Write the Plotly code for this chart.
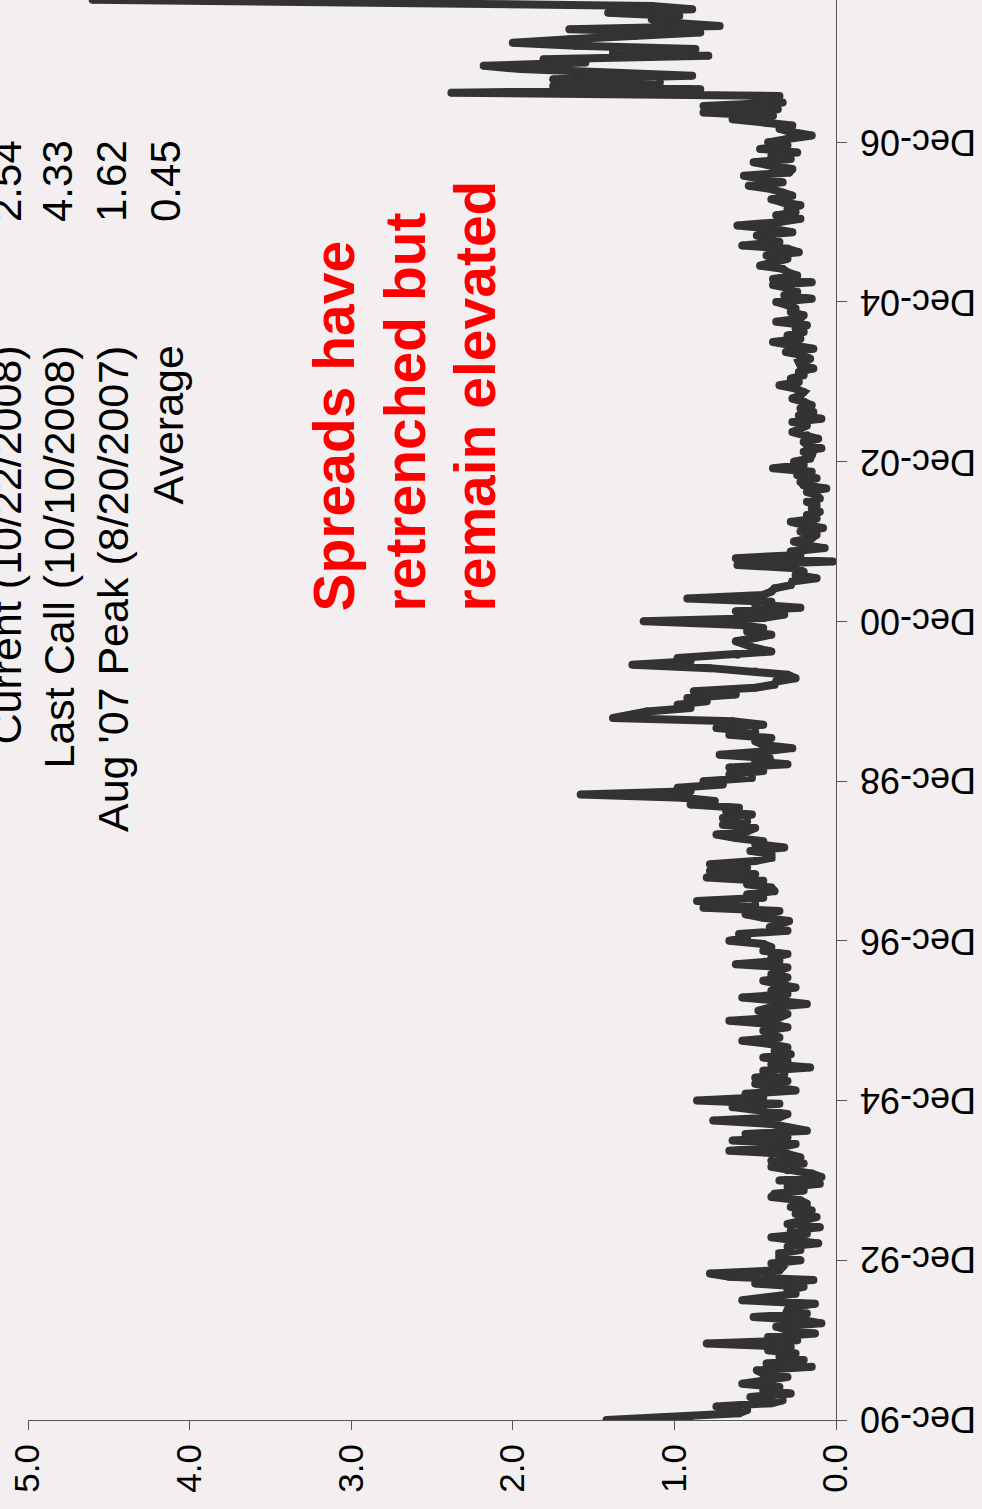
import pandas as pd
import plotly.graph_objects as go

# Half-monthly spread readings (1st and 16th of each month), percent
spread_1990 = [1.42, 0.90]  # December only
spread_1991 = [0.60, 0.55, 0.74, 0.40, 0.33, 0.53, 0.28, 0.45, 0.35, 0.58, 0.40, 0.30,
               0.45, 0.49, 0.15, 0.43, 0.20, 0.35, 0.25, 0.42, 0.28, 0.80, 0.24, 0.42]
spread_1992 = [0.13, 0.30, 0.37, 0.09, 0.20, 0.51, 0.18, 0.30, 0.29, 0.13, 0.58, 0.35,
               0.25, 0.30, 0.20, 0.50, 0.14, 0.66, 0.78, 0.35, 0.33, 0.40, 0.22, 0.35]
spread_1993 = [0.35, 0.22, 0.30, 0.11, 0.25, 0.40, 0.18, 0.28, 0.10, 0.30, 0.20, 0.12,
               0.25, 0.15, 0.28, 0.18, 0.22, 0.40, 0.38, 0.20, 0.30, 0.10, 0.35, 0.09]
spread_1994 = [0.15, 0.30, 0.40, 0.20, 0.40, 0.22, 0.30, 0.66, 0.35, 0.25, 0.64, 0.30,
               0.56, 0.18, 0.30, 0.40, 0.76, 0.35, 0.30, 0.45, 0.64, 0.35, 0.86, 0.45]
spread_1995 = [0.56, 0.25, 0.35, 0.50, 0.30, 0.50, 0.32, 0.45, 0.16, 0.40, 0.30, 0.45,
               0.28, 0.38, 0.30, 0.40, 0.58, 0.35, 0.40, 0.45, 0.30, 0.40, 0.66, 0.35]
spread_1996 = [0.30, 0.48, 0.40, 0.18, 0.35, 0.58, 0.30, 0.40, 0.25, 0.38, 0.45, 0.30,
               0.40, 0.35, 0.30, 0.62, 0.35, 0.40, 0.30, 0.45, 0.40, 0.45, 0.66, 0.55]
spread_1997 = [0.60, 0.30, 0.41, 0.35, 0.29, 0.45, 0.56, 0.35, 0.82, 0.50, 0.86, 0.45,
               0.55, 0.38, 0.40, 0.55, 0.45, 0.80, 0.50, 0.78, 0.55, 0.78, 0.50, 0.40]
spread_1998 = [0.40, 0.53, 0.32, 0.50, 0.45, 0.62, 0.74, 0.55, 0.50, 0.70, 0.55, 0.70,
               0.52, 0.68, 0.60, 0.90, 0.75, 0.95, 1.58, 0.90, 0.98, 0.70, 0.82, 0.52]
spread_1999 = [0.66, 0.45, 0.66, 0.30, 0.50, 0.41, 0.72, 0.45, 0.27, 0.45, 0.50, 0.40,
               0.66, 0.50, 0.74, 0.45, 0.64, 1.38, 1.26, 1.17, 0.90, 0.98, 0.80, 0.92]
spread_2000 = [0.62, 0.88, 0.50, 0.38, 0.37, 0.25, 0.30, 0.50, 0.78, 1.26, 0.90, 0.98,
               0.61, 0.40, 0.50, 0.55, 0.62, 0.50, 0.40, 0.55, 0.45, 0.62, 1.19, 0.45]
spread_2001 = [0.32, 0.62, 0.22, 0.50, 0.40, 0.92, 0.45, 0.40, 0.38, 0.28, 0.27, 0.12,
               0.25, 0.20, 0.25, 0.61, 0.02, 0.62, 0.22, 0.28, 0.07, 0.20, 0.26, 0.15]
spread_2002 = [0.12, 0.22, 0.08, 0.20, 0.28, 0.12, 0.18, 0.10, 0.15, 0.12, 0.18, 0.10,
               0.12, 0.18, 0.06, 0.20, 0.22, 0.12, 0.24, 0.15, 0.39, 0.20, 0.26, 0.16]
spread_2003 = [0.15, 0.20, 0.09, 0.18, 0.20, 0.11, 0.18, 0.27, 0.22, 0.18, 0.27, 0.09,
               0.23, 0.14, 0.22, 0.15, 0.20, 0.27, 0.22, 0.20, 0.25, 0.35, 0.23, 0.28]
spread_2004 = [0.20, 0.23, 0.14, 0.22, 0.23, 0.16, 0.20, 0.31, 0.14, 0.25, 0.39, 0.22,
               0.30, 0.20, 0.25, 0.18, 0.37, 0.22, 0.20, 0.28, 0.25, 0.30, 0.37, 0.15]
spread_2005 = [0.32, 0.24, 0.28, 0.39, 0.15, 0.39, 0.24, 0.30, 0.33, 0.47, 0.38, 0.30,
               0.43, 0.23, 0.30, 0.58, 0.35, 0.40, 0.49, 0.27, 0.40, 0.61, 0.35, 0.22]
spread_2006 = [0.37, 0.25, 0.30, 0.22, 0.33, 0.40, 0.27, 0.33, 0.40, 0.54, 0.33, 0.45,
               0.57, 0.29, 0.27, 0.40, 0.51, 0.28, 0.40, 0.24, 0.47, 0.30, 0.42, 0.30]
spread_2007 = [0.15, 0.27, 0.35, 0.27, 0.40, 0.64, 0.39, 0.82, 0.36, 0.82, 0.33, 0.50,
               0.35, 2.38, 0.84, 1.75, 1.09, 1.75, 0.89, 1.61, 1.95, 2.18, 1.55, 1.81]
spread_2008 = [0.79, 1.38, 0.87, 1.61, 2.00, 1.65, 1.24, 0.84, 1.65, 0.72, 1.04, 1.14,
               0.97, 1.41, 0.89, 1.14]  # January to mid-August

# Late-2008 readings at their own dates
late_2008_dates = ["2008-09-13", "2008-10-10", "2008-10-22"]
late_2008_values = [4.60, 4.33, 2.54]

yearly = [(1990, spread_1990, 12), (1991, spread_1991, 1), (1992, spread_1992, 1),
          (1993, spread_1993, 1), (1994, spread_1994, 1), (1995, spread_1995, 1),
          (1996, spread_1996, 1), (1997, spread_1997, 1), (1998, spread_1998, 1),
          (1999, spread_1999, 1), (2000, spread_2000, 1), (2001, spread_2001, 1),
          (2002, spread_2002, 1), (2003, spread_2003, 1), (2004, spread_2004, 1),
          (2005, spread_2005, 1), (2006, spread_2006, 1), (2007, spread_2007, 1),
          (2008, spread_2008, 1)]

dates, values = [], []
for year, vals, first_month in yearly:
    for i, v in enumerate(vals):
        month = first_month + i // 2
        day = 1 if i % 2 == 0 else 16
        dates.append(pd.Timestamp(year=year, month=month, day=day))
        values.append(v)
dates += [pd.Timestamp(d) for d in late_2008_dates]
values += late_2008_values

# Axis ticks
date_ticks = ["1990-12-01", "1992-12-01", "1994-12-01", "1996-12-01", "1998-12-01",
              "2000-12-01", "2002-12-01", "2004-12-01", "2006-12-01"]
date_tick_labels = ["Dec-90", "Dec-92", "Dec-94", "Dec-96", "Dec-98",
                    "Dec-00", "Dec-02", "Dec-04", "Dec-06"]
value_ticks = [0, 1, 2, 3, 4, 5]
value_tick_labels = ["0.0", "1.0", "2.0", "3.0", "4.0", "5.0"]

# Summary table
summary_labels = ["Current (10/22/2008)", "Last Call (10/10/2008)",
                  "Aug '07 Peak (8/20/2007)", "Average"]
summary_values = ["2.54", "4.33", "1.62", "0.45"]
callout_lines = ["Spreads have", "retrenched but", "remain elevated"]

W, H = 982, 1509
ML, MR, MT, MB = 28, 146, 0, 89
PW, PH = W - ML - MR, H - MT - MB
BG = "#f3eff0"
FONT = "Liberation Sans, Arial, Helvetica, sans-serif"
LINE = "#333333"


def px(xp):
    return (xp - ML) / PW


def py(yp):
    return (MT + PH - yp) / PH


fig = go.Figure()
# Thick line with a round dot at every vertex so spike tips come out rounded
fig.add_trace(go.Scatter(
    x=values, y=dates, mode="lines+markers",
    line=dict(color=LINE, width=8),
    marker=dict(color=LINE, size=8, line=dict(width=0)),
    hoverinfo="skip", showlegend=False,
))

annotations = []
# Date labels on the right-hand axis, turned upside down
for d, text in zip(date_ticks, date_tick_labels):
    annotations.append(dict(
        x=px(858), y=d, xref="paper", yref="y",
        text=text, textangle=180, showarrow=False,
        xanchor="left", yanchor="middle",
        font=dict(family=FONT, size=36, color="#000000"),
    ))
label_x = [5, 58, 113, 167]
for xp, text in zip(label_x, summary_labels):
    annotations.append(dict(
        x=px(xp), y=py(344), xref="paper", yref="paper",
        text=text, textangle=-90, showarrow=False,
        xanchor="center", yanchor="top",
        font=dict(family=FONT, size=43, color="#000000"),
    ))
value_x = [7, 58, 112, 166]
for xp, text in zip(value_x, summary_values):
    annotations.append(dict(
        x=px(xp), y=py(138), xref="paper", yref="paper",
        text=text, textangle=-90, showarrow=False,
        xanchor="center", yanchor="top",
        font=dict(family=FONT, size=42, color="#000000"),
    ))
callout_x = [333, 404, 474]
for xp, text in zip(callout_x, callout_lines):
    annotations.append(dict(
        x=px(xp), y=py(614), xref="paper", yref="paper",
        text="<b>" + text + "</b>", textangle=-90, showarrow=False,
        xanchor="center", yanchor="bottom",
        font=dict(family=FONT, size=57, color="#ff0000"),
    ))

fig.update_layout(
    width=W, height=H,
    margin=dict(l=ML, r=MR, t=MT, b=MB, pad=0),
    paper_bgcolor=BG, plot_bgcolor=BG,
    font=dict(family=FONT, color="#000000"),
    annotations=annotations,
    xaxis=dict(
        range=[5, 0], autorange=False,
        tickmode="array", tickvals=value_ticks, ticktext=value_tick_labels,
        tickangle=-90, tickfont=dict(size=35, family=FONT, color="#000000"),
        ticks="outside", ticklen=9, tickcolor="#555555", tickwidth=1,
        showline=True, linecolor="#555555", linewidth=1,
        showgrid=False, zeroline=False,
    ),
    yaxis=dict(
        type="date", side="right",
        range=["1990-12-01", "2008-09-12"], autorange=False,
        tickmode="array", tickvals=date_ticks, ticktext=date_tick_labels,
        showticklabels=False,
        ticks="outside", ticklen=10, tickcolor="#555555", tickwidth=1,
        showline=True, linecolor="#555555", linewidth=1,
        showgrid=False, zeroline=False,
    ),
)

fig.write_html("out.html")
